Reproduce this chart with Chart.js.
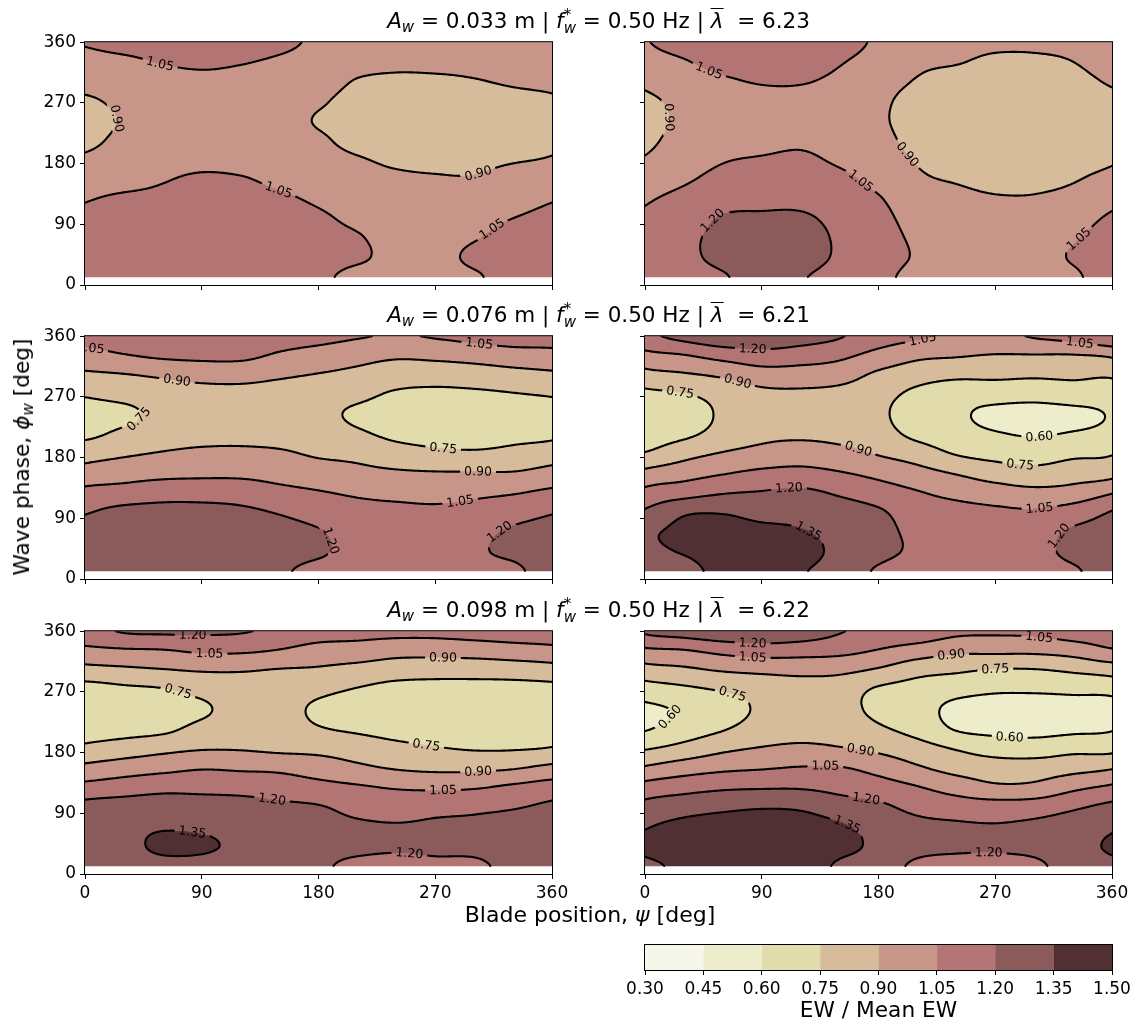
<!DOCTYPE html>
<html>
<head>
<meta charset="utf-8">
<title>EW / Mean EW</title>
<script src="https://cdn.jsdelivr.net/npm/chart.js@4.4.1/dist/chart.umd.min.js"></script>
<style>
  html, body { margin: 0; padding: 0; background: #fff; }
  #fig { position: relative; width: 1143px; height: 1024px; font-family: 'DejaVu Sans', sans-serif; color: #000; overflow: hidden; }
  #fig canvas { position: absolute; }
  .txt { position: absolute; white-space: nowrap; font-size: 21.7px; line-height: 24px; transform: translateX(-50%); }
  .ttl { font-size: 21.5px; }
  .xlab { font-size: 22px; }
  .ylab { position: absolute; white-space: nowrap; font-size: 21.7px; line-height: 24px; transform: translate(-50%, -50%) rotate(-90deg); }
  sub { font-size: 0.7em; vertical-align: -0.25em; line-height: 0; }
  .ss { display: inline-block; font-size: 0.7em; line-height: 0.85em; vertical-align: -0.3em; }
  .ss span { display: block; }
  .bar { display: inline-block; border-top: 1.5px solid #000; line-height: 1em; padding-top: 1px; }
</style>
</head>
<body>
<div id="fig"></div>
<script>
// sampling grid: blade position (deg) and wave phase (deg)
const bladePos = [0, 30, 60, 90, 120, 150, 180, 210, 240, 270, 300, 330, 360];
const wavePhase = [12, 41, 70, 99, 128, 157, 186, 215, 244, 273, 302, 331, 360];
const axisTicks = [0, 90, 180, 270, 360];

// contour levels of EW / mean EW and their fill colours
const levels = [0.30, 0.45, 0.60, 0.75, 0.90, 1.05, 1.20, 1.35, 1.50];
const levelColors = ['#f7f7e9', '#eeedcb', '#e2dbab', '#d6bc9b', '#c89688', '#b37474', '#8b5a5a', '#513034'];

// wave cases, one per row
const amplitude = ['0.033', '0.076', '0.098'];
const waveFreq = ['0.50', '0.50', '0.50'];
const meanTsr = ['6.23', '6.21', '6.22'];

// EW / mean EW: one array per blade position, phase 12 -> 360 deg
const ew033a = [
  [1.13, 1.12, 1.10, 1.08, 1.04, 0.98, 0.92, 0.87, 0.85, 0.88, 0.95, 1.00, 1.06],
  [1.13, 1.12, 1.11, 1.09, 1.07, 1.00, 0.96, 0.93, 0.91, 0.93, 0.97, 1.02, 1.10],
  [1.14, 1.14, 1.13, 1.11, 1.08, 1.04, 0.99, 0.96, 0.95, 0.96, 0.99, 1.06, 1.12],
  [1.14, 1.15, 1.14, 1.13, 1.10, 1.07, 1.01, 0.98, 0.97, 0.98, 1.01, 1.08, 1.14],
  [1.14, 1.14, 1.14, 1.12, 1.10, 1.06, 1.00, 0.97, 0.96, 0.97, 1.00, 1.06, 1.12],
  [1.12, 1.13, 1.12, 1.10, 1.07, 1.02, 0.98, 0.96, 0.95, 0.96, 0.98, 1.03, 1.08],
  [1.08, 1.10, 1.09, 1.07, 1.03, 0.99, 0.95, 0.92, 0.89, 0.92, 0.97, 1.00, 1.03],
  [1.01, 1.07, 1.06, 1.02, 0.98, 0.94, 0.91, 0.86, 0.85, 0.85, 0.89, 0.96, 1.01],
  [1.00, 1.01, 1.00, 0.98, 0.95, 0.92, 0.88, 0.84, 0.83, 0.84, 0.87, 0.94, 0.99],
  [0.99, 1.00, 0.99, 0.97, 0.94, 0.91, 0.87, 0.83, 0.82, 0.83, 0.87, 0.95, 1.00],
  [1.03, 1.08, 1.04, 1.00, 0.96, 0.91, 0.87, 0.84, 0.83, 0.84, 0.89, 0.96, 1.01],
  [1.12, 1.12, 1.10, 1.05, 1.00, 0.95, 0.89, 0.86, 0.85, 0.86, 0.92, 0.99, 1.03],
  [1.14, 1.13, 1.11, 1.08, 1.04, 0.97, 0.91, 0.87, 0.86, 0.88, 0.94, 1.00, 1.03]
];
const ew033b = [
  [1.12, 1.12, 1.11, 1.08, 1.03, 0.97, 0.91, 0.87, 0.85, 0.87, 0.93, 0.99, 1.04],
  [1.15, 1.17, 1.17, 1.14, 1.09, 1.03, 0.98, 0.95, 0.93, 0.94, 0.98, 1.04, 1.10],
  [1.19, 1.23, 1.23, 1.21, 1.15, 1.09, 1.04, 0.99, 0.97, 0.99, 1.03, 1.10, 1.14],
  [1.25, 1.26, 1.25, 1.22, 1.16, 1.10, 1.06, 1.01, 0.99, 1.01, 1.06, 1.12, 1.15],
  [1.21, 1.25, 1.25, 1.22, 1.16, 1.11, 1.07, 1.03, 1.00, 1.01, 1.06, 1.12, 1.14],
  [1.15, 1.18, 1.18, 1.16, 1.12, 1.08, 1.03, 1.00, 0.98, 0.99, 1.02, 1.06, 1.10],
  [1.08, 1.10, 1.10, 1.09, 1.06, 1.01, 0.97, 0.94, 0.92, 0.93, 0.96, 1.00, 1.03],
  [1.02, 1.04, 1.03, 1.00, 0.96, 0.92, 0.89, 0.86, 0.85, 0.85, 0.89, 0.93, 0.97],
  [1.00, 1.01, 1.00, 0.97, 0.93, 0.89, 0.85, 0.82, 0.81, 0.81, 0.84, 0.91, 0.95],
  [0.99, 1.00, 0.99, 0.96, 0.91, 0.87, 0.84, 0.81, 0.80, 0.80, 0.82, 0.87, 0.93],
  [1.00, 1.01, 1.00, 0.96, 0.91, 0.87, 0.84, 0.81, 0.80, 0.80, 0.82, 0.87, 0.93],
  [1.03, 1.06, 1.04, 1.00, 0.94, 0.89, 0.85, 0.83, 0.82, 0.82, 0.85, 0.90, 0.95],
  [1.12, 1.12, 1.10, 1.07, 1.01, 0.95, 0.88, 0.85, 0.84, 0.86, 0.92, 0.98, 1.02]
];
const ew076a = [
  [1.28, 1.27, 1.25, 1.19, 1.09, 0.96, 0.84, 0.72, 0.70, 0.76, 0.87, 1.00, 1.10],
  [1.28, 1.29, 1.27, 1.24, 1.11, 0.99, 0.88, 0.78, 0.72, 0.79, 0.89, 1.04, 1.12],
  [1.29, 1.30, 1.29, 1.25, 1.14, 1.01, 0.91, 0.83, 0.79, 0.82, 0.92, 1.07, 1.13],
  [1.29, 1.30, 1.29, 1.25, 1.14, 1.02, 0.93, 0.85, 0.82, 0.84, 0.95, 1.08, 1.14],
  [1.27, 1.28, 1.27, 1.23, 1.13, 1.02, 0.93, 0.86, 0.83, 0.85, 0.95, 1.08, 1.14],
  [1.22, 1.25, 1.25, 1.19, 1.09, 1.00, 0.92, 0.84, 0.80, 0.83, 0.92, 1.03, 1.11],
  [1.16, 1.22, 1.21, 1.14, 1.06, 0.97, 0.88, 0.81, 0.78, 0.80, 0.89, 0.99, 1.09],
  [1.13, 1.15, 1.14, 1.10, 1.03, 0.94, 0.86, 0.77, 0.73, 0.78, 0.86, 0.95, 1.06],
  [1.12, 1.14, 1.13, 1.09, 1.01, 0.92, 0.81, 0.72, 0.69, 0.73, 0.82, 0.92, 1.04],
  [1.11, 1.13, 1.12, 1.08, 1.00, 0.91, 0.78, 0.70, 0.67, 0.71, 0.82, 0.93, 1.06],
  [1.16, 1.18, 1.16, 1.10, 1.02, 0.91, 0.77, 0.69, 0.66, 0.72, 0.83, 0.95, 1.09],
  [1.17, 1.23, 1.22, 1.14, 1.04, 0.91, 0.79, 0.71, 0.68, 0.74, 0.85, 0.98, 1.12],
  [1.28, 1.28, 1.26, 1.19, 1.08, 0.95, 0.83, 0.72, 0.69, 0.76, 0.87, 1.00, 1.11]
];
const ew076b = [
  [1.30, 1.32, 1.32, 1.22, 1.09, 0.94, 0.76, 0.67, 0.64, 0.71, 0.85, 1.00, 1.17],
  [1.30, 1.36, 1.38, 1.33, 1.14, 0.99, 0.85, 0.72, 0.68, 0.74, 0.88, 1.04, 1.24],
  [1.40, 1.42, 1.41, 1.34, 1.19, 1.04, 0.91, 0.80, 0.77, 0.80, 0.92, 1.10, 1.30],
  [1.41, 1.42, 1.39, 1.30, 1.21, 1.08, 0.95, 0.86, 0.82, 0.86, 0.98, 1.14, 1.30],
  [1.36, 1.39, 1.36, 1.30, 1.23, 1.09, 0.98, 0.87, 0.83, 0.87, 0.98, 1.12, 1.26],
  [1.30, 1.32, 1.31, 1.27, 1.18, 1.06, 0.95, 0.85, 0.81, 0.85, 0.96, 1.08, 1.21],
  [1.18, 1.25, 1.25, 1.22, 1.12, 1.01, 0.89, 0.81, 0.78, 0.80, 0.87, 1.00, 1.12],
  [1.12, 1.17, 1.16, 1.12, 1.06, 0.95, 0.83, 0.71, 0.66, 0.71, 0.81, 0.93, 1.07],
  [1.12, 1.15, 1.14, 1.10, 1.01, 0.89, 0.74, 0.65, 0.62, 0.65, 0.78, 0.91, 1.03],
  [1.12, 1.14, 1.13, 1.08, 0.97, 0.83, 0.70, 0.61, 0.57, 0.65, 0.78, 0.89, 1.02],
  [1.13, 1.15, 1.14, 1.07, 0.94, 0.80, 0.68, 0.59, 0.56, 0.64, 0.77, 0.89, 1.06],
  [1.18, 1.24, 1.22, 1.12, 0.96, 0.83, 0.72, 0.61, 0.57, 0.66, 0.78, 0.89, 1.10],
  [1.28, 1.29, 1.27, 1.21, 1.04, 0.85, 0.74, 0.64, 0.61, 0.66, 0.77, 0.92, 1.18]
];
const ew098a = [
  [1.28, 1.30, 1.29, 1.25, 1.10, 0.94, 0.78, 0.69, 0.67, 0.69, 0.85, 1.01, 1.15],
  [1.30, 1.32, 1.32, 1.27, 1.13, 0.98, 0.82, 0.70, 0.67, 0.72, 0.87, 1.03, 1.21],
  [1.32, 1.37, 1.34, 1.28, 1.16, 1.01, 0.86, 0.72, 0.68, 0.74, 0.89, 1.04, 1.22],
  [1.31, 1.37, 1.33, 1.27, 1.16, 1.04, 0.89, 0.79, 0.73, 0.79, 0.91, 1.07, 1.22],
  [1.28, 1.32, 1.30, 1.26, 1.15, 1.03, 0.89, 0.82, 0.80, 0.82, 0.91, 1.07, 1.21],
  [1.26, 1.28, 1.27, 1.23, 1.13, 1.02, 0.87, 0.81, 0.79, 0.81, 0.89, 1.04, 1.17],
  [1.22, 1.24, 1.24, 1.21, 1.10, 0.98, 0.86, 0.76, 0.73, 0.78, 0.88, 0.99, 1.12],
  [1.17, 1.23, 1.22, 1.16, 1.07, 0.93, 0.83, 0.73, 0.69, 0.74, 0.85, 0.98, 1.10],
  [1.15, 1.22, 1.21, 1.14, 1.04, 0.89, 0.79, 0.70, 0.67, 0.70, 0.82, 0.95, 1.09],
  [1.17, 1.23, 1.22, 1.16, 1.03, 0.87, 0.76, 0.68, 0.65, 0.69, 0.81, 0.95, 1.09],
  [1.17, 1.24, 1.23, 1.17, 1.04, 0.87, 0.74, 0.67, 0.64, 0.69, 0.81, 0.96, 1.11],
  [1.25, 1.27, 1.26, 1.19, 1.08, 0.89, 0.74, 0.67, 0.64, 0.69, 0.82, 0.98, 1.13],
  [1.28, 1.29, 1.28, 1.23, 1.12, 0.94, 0.76, 0.68, 0.65, 0.70, 0.84, 1.00, 1.15]
];
const ew098b = [
  [1.32, 1.38, 1.34, 1.25, 1.11, 0.92, 0.74, 0.59, 0.57, 0.68, 0.84, 1.02, 1.22],
  [1.38, 1.41, 1.39, 1.29, 1.15, 0.98, 0.80, 0.67, 0.62, 0.72, 0.87, 1.04, 1.26],
  [1.42, 1.44, 1.42, 1.32, 1.18, 1.02, 0.87, 0.74, 0.69, 0.76, 0.91, 1.09, 1.30],
  [1.44, 1.45, 1.43, 1.34, 1.19, 1.04, 0.91, 0.81, 0.77, 0.80, 0.93, 1.12, 1.31],
  [1.43, 1.44, 1.42, 1.33, 1.19, 1.06, 0.93, 0.84, 0.80, 0.83, 0.94, 1.11, 1.28],
  [1.33, 1.39, 1.37, 1.27, 1.16, 1.06, 0.91, 0.83, 0.79, 0.82, 0.93, 1.09, 1.21],
  [1.28, 1.32, 1.30, 1.23, 1.12, 1.00, 0.87, 0.77, 0.72, 0.73, 0.88, 1.04, 1.15],
  [1.17, 1.25, 1.24, 1.16, 1.06, 0.92, 0.81, 0.70, 0.66, 0.69, 0.80, 0.98, 1.14],
  [1.14, 1.23, 1.22, 1.13, 0.99, 0.85, 0.74, 0.59, 0.56, 0.65, 0.77, 0.93, 1.08],
  [1.15, 1.22, 1.21, 1.12, 0.93, 0.82, 0.69, 0.56, 0.53, 0.62, 0.74, 0.93, 1.07],
  [1.17, 1.24, 1.23, 1.13, 0.94, 0.82, 0.68, 0.55, 0.52, 0.62, 0.74, 0.93, 1.08],
  [1.27, 1.29, 1.27, 1.18, 1.02, 0.85, 0.71, 0.57, 0.54, 0.63, 0.77, 0.96, 1.12],
  [1.32, 1.37, 1.33, 1.24, 1.08, 0.89, 0.71, 0.59, 0.55, 0.64, 0.81, 1.03, 1.15]
];

// inline contour labels: [level, blade position, phase]
const lab033a = [[1.05, 58, 329], [0.90, 30, 249], [1.05, 150, 145], [0.90, 303, 166], [1.05, 313, 85]];
const lab033b = [[1.05, 49, 316], [0.90, 24, 249], [1.05, 167, 156], [0.90, 200, 190], [1.20, 55, 90], [1.05, 333, 71]];
const lab076a = [[1.05, 4, 339], [0.90, 71, 296], [0.75, 42, 236], [0.75, 276, 192], [0.90, 303, 160],
                 [1.05, 289, 117], [1.05, 304, 351], [1.20, 190, 57], [1.20, 318, 74]];
const lab076b = [[1.20, 83, 339], [1.05, 214, 356], [1.05, 335, 347], [0.90, 71, 290], [0.75, 27, 276],
                 [0.60, 304, 211], [0.90, 164, 190], [0.75, 289, 166], [1.20, 111, 134], [1.05, 304, 108],
                 [1.35, 125, 67], [1.20, 317, 67]];
const lab098a = [[1.20, 83, 357], [1.05, 96, 328], [0.90, 276, 322], [0.75, 71, 265], [0.75, 263, 189],
                 [0.90, 303, 156], [1.05, 276, 123], [1.20, 144, 108], [1.35, 83, 66], [1.20, 250, 29]];
const lab098b = [[1.20, 83, 345], [1.05, 83, 321], [1.05, 304, 354], [0.90, 236, 325], [0.75, 270, 304],
                 [0.75, 67, 264], [0.60, 18, 235], [0.60, 281, 198], [0.90, 166, 181], [1.05, 139, 159],
                 [1.20, 170, 106], [1.35, 153, 62], [1.20, 265, 36]];

const grids = [[ew033a, ew033b], [ew076a, ew076b], [ew098a, ew098b]];
const labelSets = [[lab033a, lab033b], [lab076a, lab076b], [lab098a, lab098b]];

// figure layout (px)
const colLeft = [85, 645], rowTop = [40, 334, 629];
const panelW = 467, panelH = 245;
const axW = 60, axH = 35, padT = 12, padR = 25;
const tickFont = { family: 'DejaVu Sans', size: 17 };

Chart.defaults.font.family = 'DejaVu Sans';

function catmull(p0, p1, p2, p3, t) {
  return p1 + 0.5 * t * (p2 - p0 + t * (2 * p0 - 5 * p1 + 4 * p2 - p3 + t * (3 * (p1 - p2) + p3 - p0)));
}

// smooth surface through the grid; blade position wraps at 360
function makeField(grid) {
  const ni = grid.length, nj = grid[0].length;
  const dPsi = bladePos[1] - bladePos[0], dPhi = wavePhase[1] - wavePhase[0];
  const at = (i, j) => {
    if (i < 0) i += ni - 1;
    if (i > ni - 1) i -= ni - 1;
    j = Math.max(0, Math.min(nj - 1, j));
    return grid[i][j];
  };
  return (psi, phi) => {
    const fi = (psi - bladePos[0]) / dPsi, fj = (phi - wavePhase[0]) / dPhi;
    const i = Math.max(0, Math.min(ni - 2, Math.floor(fi)));
    const j = Math.max(0, Math.min(nj - 2, Math.floor(fj)));
    const ti = fi - i, tj = fj - j;
    const c = [-1, 0, 1, 2].map(a => catmull(at(i + a, j - 1), at(i + a, j), at(i + a, j + 1), at(i + a, j + 2), tj));
    return catmull(c[0], c[1], c[2], c[3], ti);
  };
}

// marching squares on a sampled field, segments in data units
function traceLevel(vals, xs, ys, lev) {
  const segs = [];
  const lerp = (a, b, va, vb) => a + (b - a) * (lev - va) / (vb - va);
  for (let i = 0; i < xs.length - 1; i++) {
    for (let j = 0; j < ys.length - 1; j++) {
      const v00 = vals[i][j], v10 = vals[i + 1][j], v11 = vals[i + 1][j + 1], v01 = vals[i][j + 1];
      const s00 = v00 >= lev, s10 = v10 >= lev, s11 = v11 >= lev, s01 = v01 >= lev;
      if (s00 === s10 && s10 === s11 && s11 === s01) continue;
      const pts = [];
      if (s00 !== s10) pts.push([lerp(xs[i], xs[i + 1], v00, v10), ys[j]]);
      if (s10 !== s11) pts.push([xs[i + 1], lerp(ys[j], ys[j + 1], v10, v11)]);
      if (s01 !== s11) pts.push([lerp(xs[i], xs[i + 1], v01, v11), ys[j + 1]]);
      if (s00 !== s01) pts.push([xs[i], lerp(ys[j], ys[j + 1], v00, v01)]);
      if (pts.length === 2) segs.push([pts[0], pts[1]]);
      else if (pts.length === 4) {
        const mid = (v00 + v10 + v11 + v01) / 4 >= lev;
        if (mid === s00) { segs.push([pts[0], pts[1]]); segs.push([pts[2], pts[3]]); }
        else { segs.push([pts[0], pts[3]]); segs.push([pts[1], pts[2]]); }
      }
    }
  }
  return segs;
}

const levelRgb = levelColors.map(h => [1, 3, 5].map(o => parseInt(h.substr(o, 2), 16)));

const contourPlugin = {
  id: 'contour',
  beforeDatasetsDraw(chart, args, opts) {
    const { ctx, chartArea: ca } = chart;
    const sx = chart.scales.x, sy = chart.scales.y;
    const f = opts.field;

    // filled bands
    const w = Math.round(ca.width), h = Math.round(ca.height);
    const off = document.createElement('canvas');
    off.width = w; off.height = h;
    const octx = off.getContext('2d');
    const img = octx.createImageData(w, h);
    for (let r = 0; r < h; r++) {
      const phi = sy.getValueForPixel(ca.top + r + 0.5);
      if (phi < wavePhase[0]) continue;
      for (let c = 0; c < w; c++) {
        const v = f(sx.getValueForPixel(ca.left + c + 0.5), phi);
        let k = 0;
        while (k < levelRgb.length - 1 && v >= levels[k + 1]) k++;
        const o = (r * w + c) * 4, col = levelRgb[k];
        img.data[o] = col[0]; img.data[o + 1] = col[1]; img.data[o + 2] = col[2]; img.data[o + 3] = 255;
      }
    }
    octx.putImageData(img, 0, 0);
    ctx.drawImage(off, ca.left, ca.top);

    // contour lines
    const step = 1.5;
    const gx = [], gy = [];
    for (let i = 0; i <= 360 / step; i++) gx.push(i * step);
    for (let j = 0; j <= (360 - wavePhase[0]) / step; j++) gy.push(wavePhase[0] + j * step);
    const vals = gx.map(p => gy.map(q => f(p, q)));
    const segsByLevel = levels.map(l => traceLevel(vals, gx, gy, l)
      .map(s => s.map(([p, q]) => [sx.getPixelForValue(p), sy.getPixelForValue(q)])));

    // label spots snapped onto their contour
    ctx.font = '12.5px "DejaVu Sans"';
    const valAt = (px, py) => f(sx.getValueForPixel(px), sy.getValueForPixel(py));
    const placed = opts.labels.map(([lev, lp, lq]) => {
      const k = levels.findIndex(l => Math.abs(l - lev) < 1e-6);
      const tx = sx.getPixelForValue(lp), ty = sy.getPixelForValue(lq);
      let best = null, bd = Infinity;
      for (const [[x1, y1], [x2, y2]] of segsByLevel[k]) {
        const dx = x2 - x1, dy = y2 - y1, L2 = dx * dx + dy * dy || 1;
        let t = ((tx - x1) * dx + (ty - y1) * dy) / L2;
        t = Math.max(0, Math.min(1, t));
        const px = x1 + t * dx, py = y1 + t * dy, d = (px - tx) ** 2 + (py - ty) ** 2;
        if (d < bd) { bd = d; best = [px, py]; }
      }
      if (!best) return null;
      const [px, py] = best;
      const gX = valAt(px + 2, py) - valAt(px - 2, py), gY = valAt(px, py + 2) - valAt(px, py - 2);
      let a = Math.atan2(-gX, gY);
      if (a > Math.PI / 2) a -= Math.PI;
      if (a <= -Math.PI / 2) a += Math.PI;
      const text = lev.toFixed(2);
      return { px, py, a, text, hw: ctx.measureText(text).width / 2 + 4, hh: 7 };
    }).filter(Boolean);

    ctx.save();
    ctx.beginPath();
    ctx.rect(ca.left, ca.top, ca.width, ca.height);
    for (const L of placed) {
      const c = Math.cos(L.a), s = Math.sin(L.a);
      const pts = [[-L.hw, -L.hh], [L.hw, -L.hh], [L.hw, L.hh], [-L.hw, L.hh]]
        .map(([u, v]) => [L.px + u * c - v * s, L.py + u * s + v * c]);
      ctx.moveTo(pts[0][0], pts[0][1]);
      for (let m = 1; m < 4; m++) ctx.lineTo(pts[m][0], pts[m][1]);
      ctx.closePath();
    }
    ctx.clip('evenodd');
    ctx.strokeStyle = '#000';
    ctx.lineWidth = 2.1;
    ctx.lineCap = 'round';
    ctx.lineJoin = 'round';
    ctx.beginPath();
    for (const segs of segsByLevel) {
      for (const [[x1, y1], [x2, y2]] of segs) { ctx.moveTo(x1, y1); ctx.lineTo(x2, y2); }
    }
    ctx.stroke();
    ctx.restore();

    ctx.save();
    ctx.beginPath();
    ctx.rect(ca.left, ca.top, ca.width, ca.height);
    ctx.clip();
    ctx.fillStyle = '#000';
    ctx.textAlign = 'center';
    ctx.textBaseline = 'middle';
    for (const L of placed) {
      ctx.save();
      ctx.translate(L.px, L.py);
      ctx.rotate(L.a);
      ctx.fillText(L.text, 0, 0.5);
      ctx.restore();
    }
    ctx.restore();
  }
};

// axes frame on all four sides
const framePlugin = {
  id: 'frame',
  afterDraw(chart) {
    const { ctx, chartArea: ca } = chart;
    ctx.save();
    ctx.strokeStyle = '#000';
    ctx.lineWidth = 1;
    ctx.strokeRect(ca.left - 0.5, ca.top - 0.5, ca.width + 1, ca.height + 1);
    ctx.restore();
  }
};

const fig = document.getElementById('fig');

function addCanvas(left, top, w, h) {
  const cv = document.createElement('canvas');
  cv.width = w; cv.height = h;
  cv.style.left = left + 'px'; cv.style.top = top + 'px';
  cv.style.width = w + 'px'; cv.style.height = h + 'px';
  fig.appendChild(cv);
  return cv;
}

function tickAxis(showLabels, fit) {
  return {
    type: 'linear', min: 0, max: 360,
    afterBuildTicks: s => { s.ticks = axisTicks.map(v => ({ value: v })); },
    afterFit: fit,
    ticks: { callback: v => (showLabels ? String(v) : ''), font: tickFont, color: '#000', padding: 4, maxRotation: 0, autoSkip: false },
    grid: { drawOnChartArea: false, drawTicks: true, tickLength: 5, color: '#000', lineWidth: 1 },
    border: { display: false }
  };
}

function makePanel(row, col) {
  const cv = addCanvas(colLeft[col] - axW, rowTop[row] - padT, axW + panelW + padR, padT + panelH + axH);
  return new Chart(cv, {
    type: 'scatter',
    data: { datasets: [] },
    options: {
      responsive: false, animation: false, devicePixelRatio: 1,
      layout: { padding: { top: padT, right: padR, left: 0, bottom: 0 } },
      plugins: {
        legend: { display: false }, tooltip: { enabled: false },
        contour: { field: makeField(grids[row][col]), labels: labelSets[row][col] }
      },
      scales: {
        x: tickAxis(row === 2, s => { s.height = axH; }),
        y: tickAxis(col === 0, s => { s.width = axW; })
      }
    },
    plugins: [contourPlugin, framePlugin]
  });
}

for (let r = 0; r < 3; r++) for (let c = 0; c < 2; c++) makePanel(r, c);

// colour bar built from floating bars, one per band
const cbLeft = 645, cbTop = 945, cbW = 467, cbH = 25;
const cbCanvas = addCanvas(cbLeft - 30, cbTop - 2, cbW + 60, cbH + 2 + axH);
new Chart(cbCanvas, {
  type: 'bar',
  data: {
    labels: [''],
    datasets: levelColors.map((c, k) => ({
      data: [[levels[k], levels[k + 1]]], backgroundColor: c, borderWidth: 0,
      barPercentage: 1, categoryPercentage: 1, grouped: false
    }))
  },
  options: {
    indexAxis: 'y', responsive: false, animation: false, devicePixelRatio: 1,
    layout: { padding: { left: 30, right: 30, top: 2, bottom: 0 } },
    plugins: { legend: { display: false }, tooltip: { enabled: false } },
    scales: {
      x: {
        type: 'linear', min: levels[0], max: levels[levels.length - 1],
        afterBuildTicks: s => { s.ticks = levels.map(v => ({ value: v })); },
        afterFit: s => { s.height = axH; },
        ticks: { callback: v => Number(v).toFixed(2), font: tickFont, color: '#000', padding: 4, maxRotation: 0, autoSkip: false },
        grid: { drawOnChartArea: false, drawTicks: true, tickLength: 5, color: '#000', lineWidth: 1 },
        border: { display: false }
      },
      y: { display: false }
    }
  },
  plugins: [framePlugin]
});

// titles and axis labels
function addText(cls, html, left, top) {
  const d = document.createElement('div');
  d.className = cls;
  d.innerHTML = html;
  d.style.left = left + 'px';
  d.style.top = top + 'px';
  fig.appendChild(d);
}

const figCenter = (colLeft[0] + colLeft[1] + panelW) / 2;
for (let r = 0; r < 3; r++) {
  addText('txt ttl',
    `<i>A</i><sub><i>w</i></sub> = ${amplitude[r]} m | <i>f</i><span class="ss"><span>*</span><span><i>w</i></span></span> = ${waveFreq[r]} Hz | <span class="bar"><i>λ</i></span>&nbsp; = ${meanTsr[r]}`,
    figCenter, rowTop[r] - 32);
}
addText('txt xlab', 'Blade position, <i>ψ</i> [deg]', 590, 903);
addText('ylab', 'Wave phase, <i>ϕ</i><sub><i>w</i></sub> [deg]', 22, (rowTop[0] + rowTop[2] + panelH) / 2);
addText('txt', 'EW / Mean EW', cbLeft + cbW / 2, 998);
</script>
</body>
</html>
